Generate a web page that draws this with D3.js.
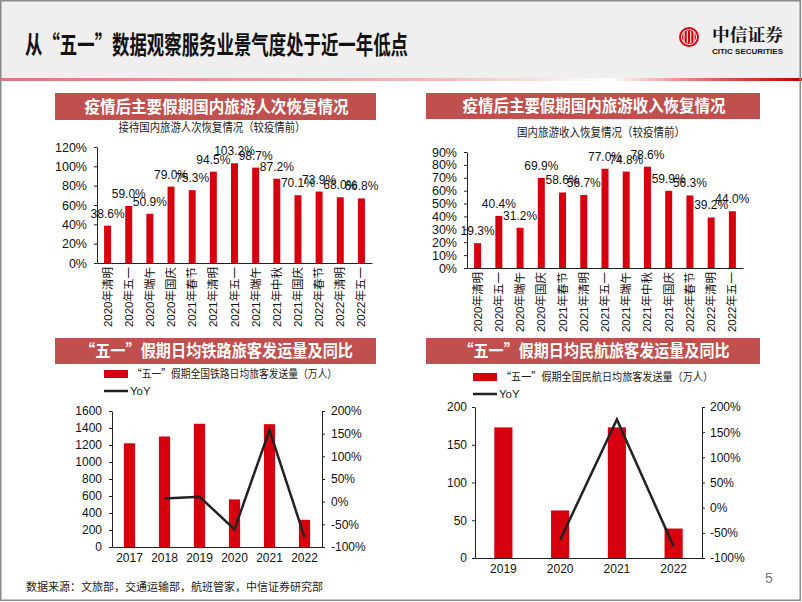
<!DOCTYPE html>
<html><head><meta charset="utf-8">
<script src="https://cdn.jsdelivr.net/npm/d3@7"></script>
<style>
html,body{margin:0;padding:0;background:#fff;}
svg{display:block;font-family:"Liberation Sans",Arial,"Noto Sans CJK SC",sans-serif;}
</style></head><body>
<svg id="c" width="802" height="602"></svg>
<script>
// ---------- data ----------
const holidayCats = ["2020年清明","2020年五一","2020年端午","2020年国庆","2021年春节","2021年清明","2021年五一","2021年端午","2021年中秋","2021年国庆","2022年春节","2022年清明","2022年五一"];
const tripRecovery = [38.6,59.0,50.9,79.0,75.3,94.5,103.2,98.7,87.2,70.1,73.9,68.0,66.8];
const revenueRecovery = [19.3,40.4,31.2,69.9,58.6,56.7,77.0,74.8,78.6,59.9,56.3,39.2,44.0];
const railYears = ["2017","2018","2019","2020","2021","2022"];
const railVolume = [1220,1300,1450,560,1445,320];
const railYoY = [null,7,11,-61,158,-78];
const airYears = ["2019","2020","2021","2022"];
const airVolume = [173,63,173,39];
const airYoY = [null,-64,175,-77];

const RED = "#d7000f";
const svg = d3.select("#c");

// ---------- page frame ----------
const defs = svg.append("defs");
const g1 = defs.append("linearGradient").attr("id","hdrline").attr("x1","0").attr("x2","1");
[[0,"#d77a7c"],[0.55,"#eebcbc"],[0.76,"#ffffff"],[0.88,"#e06a6a"],[1,"#c00000"]].forEach(s=>
  g1.append("stop").attr("offset",s[0]).attr("stop-color",s[1]));
svg.append("rect").attr("x",0).attr("y",0).attr("width",802).attr("height",78).attr("fill","#efefef");
svg.append("rect").attr("x",0).attr("y",78).attr("width",802).attr("height",3).attr("fill","url(#hdrline)");
svg.append("rect").attr("x",0.75).attr("y",0.75).attr("width",799.5).attr("height",599.5)
  .attr("fill","none").attr("stroke","#8a8a8a").attr("stroke-width",1.5);

svg.append("text").attr("x",25).attr("y",54).attr("font-size",25).attr("font-weight","bold")
  .attr("font-family","'Noto Sans CJK SC',sans-serif").attr("fill","#111")
  .attr("textLength",383).attr("lengthAdjust","spacingAndGlyphs")
  .text("从“五一”数据观察服务业景气度处于近一年低点");

// logo
const logo = svg.append("g").attr("transform","translate(689,37)");
logo.append("circle").attr("r",10).attr("fill",RED);
[-5,-1.7,1.7,5].forEach(x=>logo.append("line").attr("x1",x).attr("x2",x).attr("y1",-6).attr("y2",6)
  .attr("stroke","#fff").attr("stroke-width",1.1));
logo.append("circle").attr("r",7.5).attr("fill","none").attr("stroke","#fff").attr("stroke-width",1);
svg.append("text").attr("x",712).attr("y",41).attr("font-size",17).attr("font-weight","bold")
  .attr("font-family","'Noto Serif CJK SC','Noto Sans CJK SC',serif").attr("fill","#111")
  .attr("textLength",71).attr("lengthAdjust","spacingAndGlyphs").text("中信证券");
svg.append("text").attr("x",712).attr("y",54).attr("font-size",8).attr("font-weight","bold")
  .attr("fill","#111").attr("textLength",71).attr("lengthAdjust","spacingAndGlyphs").text("CITIC SECURITIES");

// footer
svg.append("text").attr("x",26).attr("y",591).attr("font-size",11).attr("fill","#222")
  .attr("font-family","'Noto Sans CJK SC',sans-serif")
  .text("数据来源：文旅部，交通运输部，航班管家，中信证券研究部");
svg.append("text").attr("x",765).attr("y",583).attr("font-size",14).attr("fill","#777").text("5");

// panel header bands
function band(x0,x1,y0,y1,txt,len){
  svg.append("rect").attr("x",x0).attr("y",y0).attr("width",x1-x0).attr("height",y1-y0).attr("fill","#c0504d");
  svg.append("text").attr("x",(x0+x1)/2+1).attr("y",(y0+y1)/2+6).attr("text-anchor","middle")
    .attr("font-size",16.5).attr("font-weight","bold").attr("fill","#fff")
    .attr("font-family","'Noto Sans CJK SC',sans-serif")
    .attr("textLength",len).attr("lengthAdjust","spacingAndGlyphs").text(txt);
}
band(55,376,93,120,"疫情后主要假期国内旅游人次恢复情况",264);
band(426,760,93,119,"疫情后主要假期国内旅游收入恢复情况",263);
band(55,376,338,364,"“五一”假期日均铁路旅客发运量及同比",273);
band(426,760,338,364,"“五一”假期日均民航旅客发运量及同比",271);

// ---------- recovery bar charts ----------
function recoveryChart(o){
  const g = svg.append("g");
  const x = d3.scaleBand().domain(o.cats).range([o.left,o.right]).paddingInner(0.67).paddingOuter(0.335);
  const y = d3.scaleLinear().domain([0,o.max]).range([o.bottom,o.top]);
  g.append("text").attr("x",o.subX).attr("y",o.subY).attr("text-anchor","middle").attr("font-size",12)
    .attr("font-family","'Noto Sans CJK SC',sans-serif").attr("fill","#222")
    .attr("textLength",o.subLen).attr("lengthAdjust","spacingAndGlyphs").text(o.sub);
  g.selectAll("rect.b").data(o.vals).join("rect").attr("class","b")
    .attr("x",(d,i)=>x(o.cats[i])).attr("width",x.bandwidth())
    .attr("y",d=>y(d)).attr("height",d=>o.bottom-y(d)).attr("fill",RED);
  const ya = g.append("g").attr("transform",`translate(${o.left},0)`)
    .call(d3.axisLeft(y).tickValues(d3.range(0,o.max+0.01,o.step)).tickFormat(d=>d+"%").tickSize(3).tickSizeOuter(0).tickPadding(7));
  ya.selectAll("text").attr("font-size",12.5).attr("fill","#111");
  ya.selectAll("line,path").attr("stroke","#222");
  const xa = g.append("g").attr("transform",`translate(0,${o.bottom})`)
    .call(d3.axisBottom(x).tickSize(0).tickFormat(""));
  xa.select("path").attr("stroke","#222");
  g.selectAll("text.c").data(o.cats).join("text").attr("class","c")
    .attr("transform",d=>`translate(${x(d)+x.bandwidth()/2+4},${o.bottom+4}) rotate(-90)`)
    .attr("text-anchor","end").attr("font-size",11.5).attr("fill","#111")
    .attr("font-family","'Liberation Sans','Noto Sans CJK SC',sans-serif").text(d=>d);
  g.selectAll("text.v").data(o.vals).join("text").attr("class","v")
    .attr("x",(d,i)=>x(o.cats[i])+x.bandwidth()/2).attr("y",d=>y(d)-8)
    .attr("text-anchor","middle").attr("font-size",12).attr("fill","#111")
    .text(d=>d.toFixed(1)+"%");
}
recoveryChart({cats:holidayCats,vals:tripRecovery,left:97,right:372,top:147,bottom:263,max:120,step:20,
  sub:"接待国内旅游人次恢复情况（较疫情前）",subX:212,subY:132,subLen:187});
recoveryChart({cats:holidayCats,vals:revenueRecovery,left:467,right:743,top:152,bottom:268,max:90,step:10,
  sub:"国内旅游收入恢复情况（较疫情前）",subX:601,subY:137,subLen:168});

// ---------- combo charts ----------
function comboChart(o){
  const g = svg.append("g");
  const x = d3.scaleBand().domain(o.years).range([o.left,o.right]).paddingInner(o.pad).paddingOuter(o.pad/2);
  const y = d3.scaleLinear().domain([0,o.max]).range([o.bottom,o.top]);
  const y2 = d3.scaleLinear().domain([-100,200]).range([o.bottom,o.top]);
  // legend
  g.append("rect").attr("x",o.lgX).attr("y",o.lgY-4).attr("width",24).attr("height",8).attr("fill",RED);
  g.append("text").attr("x",o.lgX+28).attr("y",o.lgY+4).attr("font-size",11).attr("fill","#222")
    .attr("font-family","'Noto Sans CJK SC',sans-serif")
    .attr("textLength",o.lgLen).attr("lengthAdjust","spacingAndGlyphs").text(o.legend);
  g.append("line").attr("x1",o.lgX).attr("x2",o.lgX+24).attr("y1",o.lgY+17).attr("y2",o.lgY+17)
    .attr("stroke","#222").attr("stroke-width",2.5);
  g.append("text").attr("x",o.lgX+26).attr("y",o.lgY+21).attr("font-size",11.5).attr("fill","#222").text("YoY");
  // bars
  g.selectAll("rect.b").data(o.vol).join("rect").attr("class","b")
    .attr("x",(d,i)=>x(o.years[i])).attr("width",x.bandwidth())
    .attr("y",d=>y(d)).attr("height",d=>o.bottom-y(d)).attr("fill",RED);
  // axes
  const la = g.append("g").attr("transform",`translate(${o.left},0)`)
    .call(d3.axisLeft(y).tickValues(d3.range(0,o.max+0.01,o.step)).tickFormat(d3.format("d")).tickSize(3).tickSizeOuter(0).tickPadding(o.lpad));
  const ra = g.append("g").attr("transform",`translate(${o.right},0)`)
    .call(d3.axisRight(y2).tickValues(d3.range(-100,201,50)).tickFormat(d=>d+"%").tickSize(3).tickSizeOuter(0).tickPadding(o.rpad));
  const ba = g.append("g").attr("transform",`translate(0,${o.bottom})`)
    .call(d3.axisBottom(x).tickSize(0).tickPadding(o.bpad));
  [la,ra,ba].forEach(a=>{a.selectAll("text").attr("font-size",12).attr("fill","#111");a.selectAll("line,path").attr("stroke","#222");});
  // line
  const pts = o.yoy.map((d,i)=>({d,i})).filter(p=>p.d!==null);
  g.append("path").datum(pts).attr("fill","none").attr("stroke","#222").attr("stroke-width",2.5)
    .attr("d",d3.line().x(p=>x(o.years[p.i])+x.bandwidth()/2).y(p=>y2(p.d)));
}
comboChart({years:railYears,vol:railVolume,yoy:railYoY,left:112,right:322,top:411,bottom:547,max:1600,step:200,pad:0.68,
  lgX:104,lgY:374,legend:"“五一”假期全国铁路日均旅客发送量（万人）",lgLen:205,lpad:7,rpad:6,bpad:6});
comboChart({years:airYears,vol:airVolume,yoy:airYoY,left:475,right:702,top:407,bottom:558,max:200,step:50,pad:0.68,
  lgX:473,lgY:377,legend:"“五一”假期全国民航日均旅客发送量（万人）",lgLen:212,lpad:5,rpad:5,bpad:6});
</script>
</body></html>
